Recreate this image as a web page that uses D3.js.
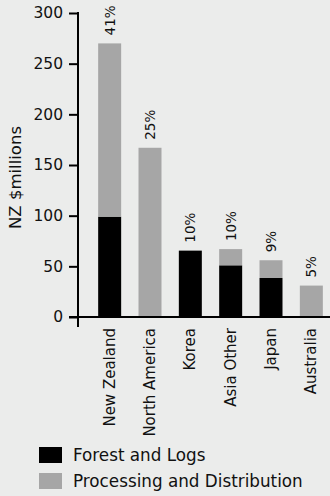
<!DOCTYPE html>
<html>
<head>
	<meta charset="utf-8">
	<title>Stacked bars</title>
	<script src="https://d3js.org/d3.v7.min.js"></script>
	<style>
		body { margin: 0; background: #ebeceb; }
		text { font-family: "DejaVu Sans", sans-serif; fill: #111; }
	</style>
</head>
<body>
	<div class="chart"></div>

	<script type="text/javascript">
		const regions = ['New Zealand', 'North America', 'Korea', 'Asia Other', 'Japan', 'Australia']
		const forestLogs = [99, 0, 65.5, 51, 38.5, 0]
		const processing = [171, 167, 0, 16, 17.5, 31]
		const shares = ['41%', '25%', '10%', '10%', '9%', '5%']
		const yTicks = [0, 50, 100, 150, 200, 250, 300]
		const seriesNames = ['Forest and Logs', 'Processing and Distribution']
		const colors = ['#000000', '#a6a6a6']

		const width = 330
		const height = 496
		const margin = { top: 13, left: 78, bottom: 179 }

		const svg = d3.select('.chart').append('svg')
			.attr('width', width)
			.attr('height', height)

		const data = regions.map((r, i) => ({ region: r, forest: forestLogs[i], proc: processing[i], share: shares[i] }))

		const stack = d3.stack().keys(['forest', 'proc'])
		const series = stack(data)

		const x = d3.scaleBand(regions, [margin.left, 343])
			.paddingInner(0.43)
			.paddingOuter(0.5)

		const y = d3.scaleLinear([0, 300], [height - margin.bottom, margin.top])

		// bars
		svg.append('g')
			.selectAll('g')
			.data(series)
			.join('g')
			.attr('fill', (d, i) => colors[i])
			.selectAll('rect')
			.data(d => d)
			.join('rect')
			.attr('x', d => x(d.data.region))
			.attr('y', d => y(d[1]))
			.attr('width', x.bandwidth())
			.attr('height', d => y(d[0]) - y(d[1]))

		// percent labels
		svg.append('g')
			.selectAll('text')
			.data(data)
			.join('text')
			.attr('transform', d => `translate(${x(d.region) + x.bandwidth() / 2 + 5},${y(d.forest + d.proc) - 8}) rotate(-90)`)
			.attr('font-size', 13.5)
			.text(d => d.share)

		// y axis
		const yAxis = svg.append('g')
			.attr('transform', `translate(${margin.left},0)`)
			.call(d3.axisLeft(y).tickValues(yTicks).tickSize(9).tickPadding(6))
		yAxis.select('.domain').remove()
		yAxis.selectAll('line').attr('stroke', '#000').attr('stroke-width', 2)
		yAxis.selectAll('text').attr('font-size', 15.5).attr('fill', '#111')
		yAxis.append('line')
			.attr('y1', margin.top - 1)
			.attr('y2', y(0) + 10)
			.attr('stroke', '#000')
			.attr('stroke-width', 2)

		// x axis
		svg.append('line')
			.attr('x1', margin.left - 9)
			.attr('x2', width)
			.attr('y1', y(0))
			.attr('y2', y(0))
			.attr('stroke', '#000')
			.attr('stroke-width', 2)

		svg.append('g')
			.selectAll('text')
			.data(regions)
			.join('text')
			.attr('transform', d => `translate(${x(d) + x.bandwidth() / 2 + 5},${y(0) + 11}) rotate(-90)`)
			.attr('text-anchor', 'end')
			.attr('font-size', 15)
			.text(d => d)

		// y label
		svg.append('text')
			.attr('transform', `translate(21,${(125 + 230) / 2}) rotate(-90)`)
			.attr('text-anchor', 'middle')
			.attr('font-size', 16.5)
			.text('NZ $millions')

		// legend
		const legend = svg.append('g')
			.selectAll('g')
			.data(seriesNames)
			.join('g')
			.attr('transform', (d, i) => `translate(39,${447 + i * 26})`)
		legend.append('rect')
			.attr('width', 23)
			.attr('height', 16)
			.attr('fill', (d, i) => colors[i])
		legend.append('text')
			.attr('x', 34)
			.attr('y', 14)
			.attr('font-size', 16.8)
			.text(d => d)
	</script>
</body>
</html>
